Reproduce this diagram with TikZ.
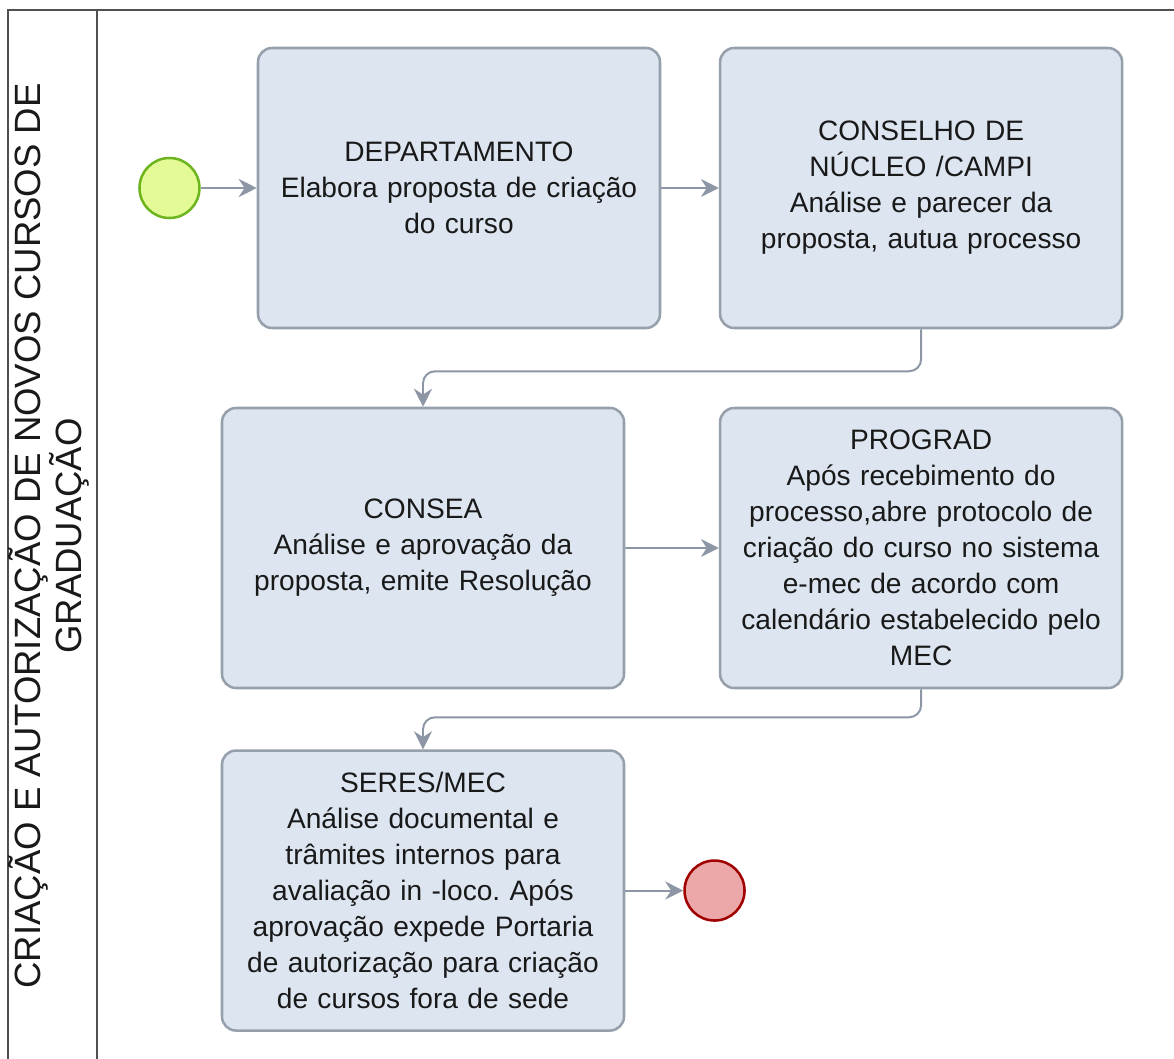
\documentclass[tikz,border=0pt]{standalone}
\usepackage{fontspec}
\setmainfont{Liberation Sans}
\frenchspacing
\usetikzlibrary{positioning}
\usetikzlibrary{arrows.meta}
\definecolor{taskfill}{RGB}{220,229,240}
\definecolor{taskline}{RGB}{150,160,172}
\definecolor{flowgray}{RGB}{140,150,164}
\definecolor{startfill}{RGB}{228,250,150}
\definecolor{startline}{RGB}{110,180,30}
\definecolor{endfill}{RGB}{236,168,168}
\definecolor{endline}{RGB}{160,0,0}
\definecolor{laneline}{RGB}{80,80,80}
\tikzset{
    task/.style={draw=taskline, fill=taskfill, line width=1.8pt, rounded corners=0.35cm,
        minimum width=10.05cm, minimum height=7cm, text width=9.6cm, align=center,
        font=\fontsize{20}{25.6}\selectfont, text=black!90},
    event/.style={circle, line width=1.8pt, minimum size=1.5cm, inner sep=0pt},
    flow/.style={draw=flowgray, line width=1.4pt, -{Stealth[length=4.5mm,width=4.5mm]}},
}

\begin{document}
\begin{tikzpicture}
            \useasboundingbox (0,0) rectangle (29.35,-26.475);
            % lane
            \draw[laneline, line width=1.4pt] (0.2,-26.475) -- (0.2,-0.25) -- (29.35,-0.25);
            \draw[laneline, line width=1.4pt] (2.425,-0.25) -- (2.425,-26.475);
            \node (lane) [rotate=90, align=center, font=\fontsize{26}{26}\selectfont, text=black!90] at (1.22,-13.4)
                {CRIAÇÃO E AUTORIZAÇÃO DE NOVOS CURSOS DE\\GRADUAÇÃO};

            \node (dept)     [task] at (11.475,-4.7)  {DEPARTAMENTO\\Elabora proposta de criação\\do curso};
            \node (conselho) [task, right=1.44cm of dept] {CONSELHO DE\\NÚCLEO /CAMPI\\Análise e parecer da\\proposta, autua processo};
            \node (consea)   [task] at (10.575,-13.7) {CONSEA\\Análise e aprovação da\\proposta, emite Resolução};
            \node (prograd)  [task, below=1.937cm of conselho] {PROGRAD\\Após recebimento do\\processo,abre protocolo de\\criação do curso no sistema\\e-mec de acordo com\\calendário estabelecido pelo\\MEC};
            \node (seres)    [task, below=1.5cm of consea] {SERES/MEC\\Análise documental e\\trâmites internos para\\avaliação in -loco. Após\\aprovação expede Portaria\\de autorização para criação\\de cursos fora de sede};

            \node (start) [event, draw=startline, fill=startfill, left=1.4cm of dept] {};
            \node (end)   [event, draw=endline, fill=endfill, right=1.45cm of seres] {};

            \draw[flow] (start) -- (dept);
            \draw[flow] (dept) -- (conselho);
            \draw[flow, rounded corners=0.3cm] (conselho.south) -- ++(0,-1.05) -| (consea.north);
            \draw[flow] (consea) -- (prograd);
            \draw[flow, rounded corners=0.3cm] (prograd.south) -- ++(0,-0.7) -| (seres.north);
            \draw[flow] (seres) -- (end);
        \end{tikzpicture}
\end{document}
